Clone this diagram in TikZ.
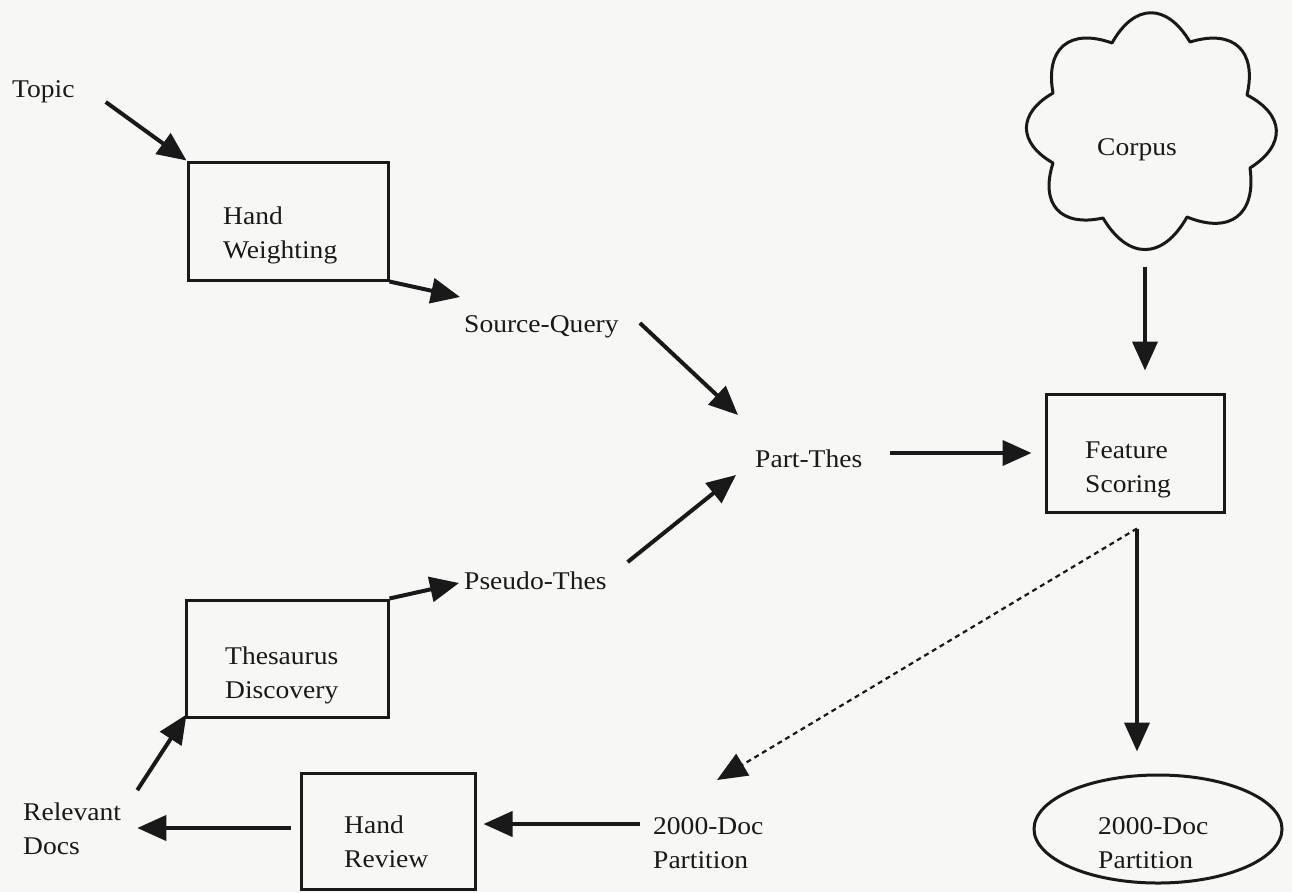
\documentclass[tikz,border=0pt]{standalone}
\usepackage{fontspec}
\setmainfont{Liberation Serif}[FakeStretch=1.08]
\usetikzlibrary{arrows.meta,calc,shapes.geometric}
\definecolor{bg}{RGB}{247,247,245}
\definecolor{ink}{RGB}{25,25,25}
\begin{document}
\begin{tikzpicture}[x=1pt,y=1pt,
  txt/.style={font=\fontsize{25.5}{34}\selectfont, text=ink, inner sep=0pt, align=left, anchor=base west},
  box/.style={draw=ink, line width=3pt, rectangle, inner sep=0pt},
  arr/.style={draw=ink, line width=4pt, -{Triangle[length=29pt,width=25pt]}},
  darr/.style={draw=ink, line width=2.2pt, dash pattern=on 5pt off 4pt, -{Triangle[length=30pt,width=25pt]}},
  lobe/.style={bend left=60, looseness=1.5}]
\fill[bg] (0,0) rectangle (1292,-892);
\useasboundingbox (0,0) rectangle (1292,-892);

% nodes (base anchor of a two-line node = baseline of its last line)
\node[txt] (topic) at (12,-97) {Topic};
\node[box, minimum width=200, minimum height=118] (hw) at (288,-221) {};
\node[txt] (hwt) at (223,-258) {Hand\\Weighting};
\node[txt] (sq) at (464,-332) {Source-Query};
\node[txt] (pt) at (755,-467) {Part-Thes};
\node[txt] (pst) at (464,-589) {Pseudo-Thes};
\node[box, minimum width=178, minimum height=118] (fs) at (1135,-453) {};
\node[txt] (fst) at (1085,-492) {Feature\\Scoring};
\coordinate (cloudc) at (1148,-131);
\node[txt] (corpus) at (1097,-155) {Corpus};
\node[draw=ink, line width=3pt, ellipse, minimum width=248, minimum height=108, inner sep=0pt] (ell) at (1158,-829) {};
\node[txt] (ellt) at (1098,-868) {2000-Doc\\Partition};
\node[txt] (dp) at (653,-868) {2000-Doc\\Partition};
\node[box, minimum width=174, minimum height=116] (hr) at (388,-831) {};
\node[txt] (hrt) at (344,-867) {Hand\\Review};
\node[txt] (rd) at (23,-854) {Relevant\\Docs};
\node[box, minimum width=202, minimum height=117] (td) at (287,-658.5) {};
\node[txt] (tdt) at (225,-698) {Thesaurus\\Discovery};

% cloud
\draw[ink, line width=3pt, line join=round]
  (1112,-43) to[lobe] (1190,-42) to[lobe] (1247,-95) to[lobe] (1250,-168)
  to[lobe] (1187,-217) to[lobe] (1103,-218) to[lobe] (1053,-163)
  to[lobe] (1053,-93) to[lobe] (1112,-43) -- cycle;

% connectors
\draw[arr] ($(topic.base east)+(31,-5)$) -- (hw.north west);
\draw[arr] (hw.south east) -- ($(sq.base west)+(-4,35)$);
\draw[arr] ($(sq.base east)+(21,9)$) -- ($(pt.base west)+(-17,52)$);
\draw[arr] ($(pst.base east)+(21,27)$) -- ($(pt.base west)+(-19,-8)$);
\coordinate (a5) at ($(pt.base east)+(28,14)$);
\draw[arr] (a5) -- ($(fs.west|-a5)+(-13,0)$);
\coordinate (a6) at ($(cloudc)+(-3,-136)$);
\draw[arr] (a6) -- ($(fs.north-|a6)+(0,22)$);
\coordinate (a7) at ($(fs.south)+(2,-15)$);
\draw[arr] (a7) -- ($(ell.north-|a7)+(0,22)$);
\draw[darr] (a7) -- ($(dp.base west)+(64,88)$);
\coordinate (a9) at ($(dp.base west)+(-13,44)$);
\draw[arr] (a9) -- ($(hr.east|-a9)+(7,0)$);
\coordinate (a10) at ($(hr.west)+(-9,3)$);
\draw[arr] (a10) -- ($(rd.east|-a10)+(16,0)$);
\draw[arr] ($(rd.north east)+(16,12)$) -- ($(td.south west)+(2,4)$);
\draw[arr] (td.north east) -- ($(pst.base west)+(-5,6)$);
\end{tikzpicture}
\end{document}
